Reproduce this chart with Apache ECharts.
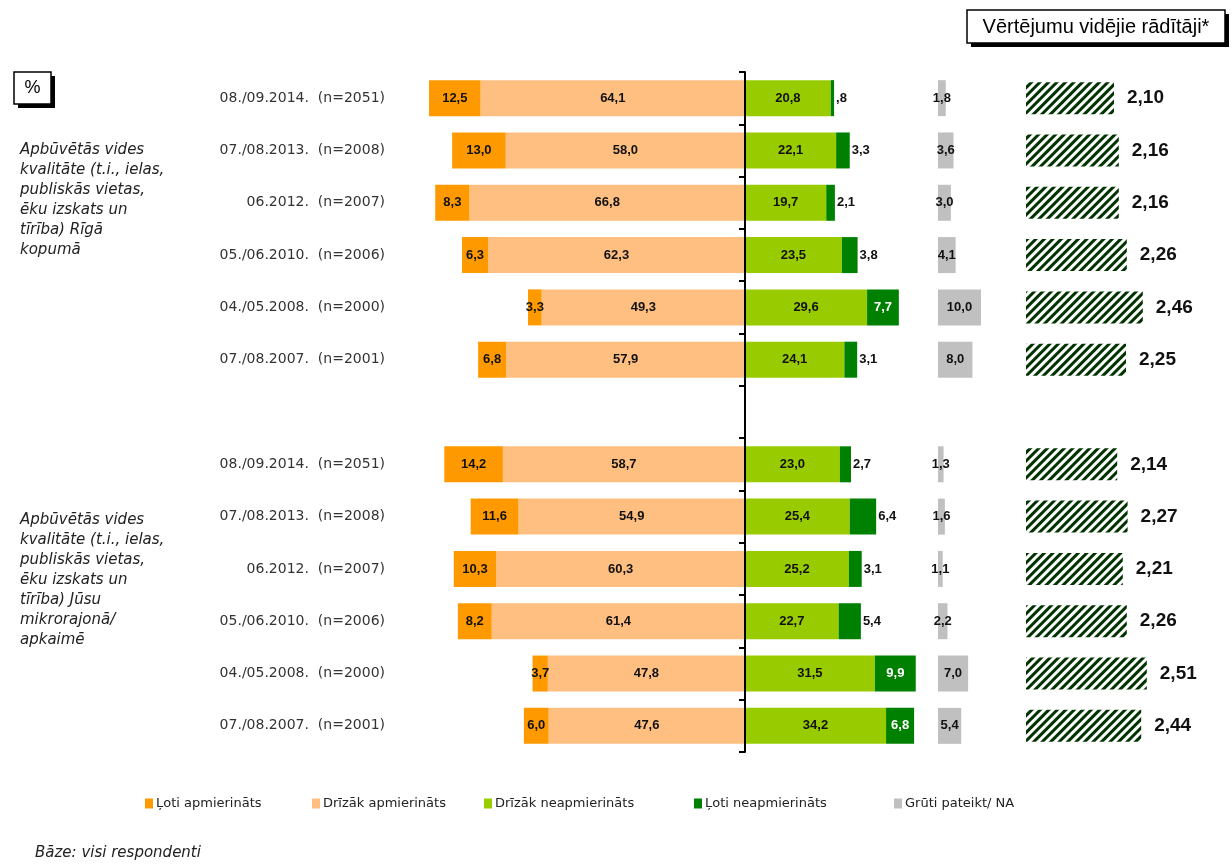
<!DOCTYPE html>
<html>
<head>
<meta charset="utf-8">
<script src="https://cdn.jsdelivr.net/npm/echarts@6/dist/echarts.min.js"></script>
<style>
html,body{margin:0;padding:0;background:#fff;}
#chart{width:1232px;height:866px;}
</style>
</head>
<body>
<div id="chart"></div>
<script>
// ---------- data ----------
const dates = ['08./09.2014.  (n=2051)', '07./08.2013.  (n=2008)', '06.2012.  (n=2007)',
               '05./06.2010.  (n=2006)', '04./05.2008.  (n=2000)', '07./08.2007.  (n=2001)'];
const categories = [...dates, '', ...dates];
const seriesNames = ['Ļoti apmierināts', 'Drīzāk apmierināts', 'Drīzāk neapmierināts', 'Ļoti neapmierināts', 'Grūti pateikt/ NA'];
const veryS   = [12.5, 13.0, 8.3, 6.3, 3.3, 6.8, null, 14.2, 11.6, 10.3, 8.2, 3.7, 6.0];
const ratherS = [64.1, 58.0, 66.8, 62.3, 49.3, 57.9, null, 58.7, 54.9, 60.3, 61.4, 47.8, 47.6];
const ratherD = [20.8, 22.1, 19.7, 23.5, 29.6, 24.1, null, 23.0, 25.4, 25.2, 22.7, 31.5, 34.2];
const veryD   = [0.8, 3.3, 2.1, 3.8, 7.7, 3.1, null, 2.7, 6.4, 3.1, 5.4, 9.9, 6.8];
const na      = [1.8, 3.6, 3.0, 4.1, 10.0, 8.0, null, 1.3, 1.6, 1.1, 2.2, 7.0, 5.4];
const avg     = [2.10, 2.16, 2.16, 2.26, 2.46, 2.25, null, 2.14, 2.27, 2.21, 2.26, 2.51, 2.44];
const groupLabels = [
  'Apbūvētās vides\nkvalitāte (t.i., ielas,\npubliskās vietas,\nēku izskats un\ntīrība) Rīgā\nkopumā',
  'Apbūvētās vides\nkvalitāte (t.i., ielas,\npubliskās vietas,\nēku izskats un\ntīrība) Jūsu\nmikrorajonā/\napkaimē'
];
const avgTitle = 'Vērtējumu vidējie rādītāji*';
const baseNote = 'Bāze: visi respondenti';

// ---------- helpers ----------
const colors = ['#FF9900', '#FFBF80', '#99CC00', '#008000', '#C0C0C0'];
const FONT = 'Liberation Sans, Arial, sans-serif';
const WIDE = 'DejaVu Sans, sans-serif';
function fmt1(v) {
  let s = Math.abs(v).toFixed(1).replace('.', ',');
  if (Math.abs(v) < 1) s = s.replace(/^0/, '');
  return s;
}
const neg = arr => arr.map(v => v == null ? '-' : -v);
const nz = arr => arr.map(v => v == null ? '-' : v);
const barLabel = {
  show: true, position: 'inside', color: '#111', fontSize: 13, fontWeight: 'bold', fontFamily: FONT,
  formatter: p => (typeof p.value === 'number' ? fmt1(p.value) : '')
};

const gridTop = 72, gridH = 680;
const chart = echarts.init(document.getElementById('chart'), null, {renderer: 'canvas'});

const veryDData = veryD.map(v => {
  if (v == null) return '-';
  if (v >= 6.5) return {value: v, label: {position: 'inside', color: '#fff'}};
  return {value: v, label: {position: 'right', distance: 2, color: '#111'}};
});

const option = {
  animation: false,
  backgroundColor: '#fff',
  grid: [
    {left: 415, top: gridTop, width: 515.6, height: gridH},
    {left: 938, top: gridTop, width: 43, height: gridH},
    {left: 1026, top: gridTop, width: 160, height: gridH}
  ],
  xAxis: [
    {gridIndex: 0, type: 'value', min: -80, max: 45, show: false},
    {gridIndex: 1, type: 'value', min: 0, max: 10, show: false},
    {gridIndex: 2, type: 'value', min: 1, max: 3, show: false}
  ],
  yAxis: [
    {gridIndex: 0, type: 'category', data: categories, inverse: true, position: 'left',
     axisLine: {show: false, onZero: false}, axisTick: {show: false},
     axisLabel: {margin: 30, fontSize: 14, color: '#333', fontFamily: WIDE}},
    {gridIndex: 0, type: 'category', data: categories, inverse: true, position: 'left', z: 10,
     axisLine: {show: true, onZero: true, lineStyle: {color: '#000', width: 2}},
     axisTick: {show: true, length: 6, lineStyle: {color: '#000', width: 2}},
     axisLabel: {show: false}},
    {gridIndex: 1, type: 'category', data: categories, inverse: true, show: false},
    {gridIndex: 2, type: 'category', data: categories, inverse: true, show: false}
  ],
  legend: seriesNames.map((n, i) => ({
    data: [n], top: 792, left: [140, 307, 479, 689, 889][i],
    icon: 'rect', itemWidth: 8, itemHeight: 10, itemGap: 4,
    textStyle: {fontSize: 13, color: '#222', fontFamily: WIDE, padding: [0, 0, 0, -2]},
    selectedMode: false
  })),
  series: [
    {name: seriesNames[1], type: 'bar', stack: 'all', xAxisIndex: 0, yAxisIndex: 0, barWidth: 36,
     data: neg(ratherS), itemStyle: {color: colors[1]}, label: barLabel},
    {name: seriesNames[0], type: 'bar', stack: 'all', xAxisIndex: 0, yAxisIndex: 0, barWidth: 36,
     data: neg(veryS), itemStyle: {color: colors[0]}, label: barLabel},
    {name: seriesNames[2], type: 'bar', stack: 'all', xAxisIndex: 0, yAxisIndex: 0, barWidth: 36,
     data: nz(ratherD), itemStyle: {color: colors[2]}, label: barLabel},
    {name: seriesNames[3], type: 'bar', stack: 'all', xAxisIndex: 0, yAxisIndex: 0, barWidth: 36,
     data: veryDData, itemStyle: {color: colors[3]}, label: barLabel},
    {name: seriesNames[4], type: 'bar', xAxisIndex: 1, yAxisIndex: 2, barWidth: 36,
     data: nz(na), itemStyle: {color: colors[4]}, label: barLabel},
    {name: 'avg', type: 'bar', xAxisIndex: 2, yAxisIndex: 3, barWidth: 32,
     data: nz(avg),
     itemStyle: {color: '#fff', decal: {symbol: 'rect', symbolSize: 1, dashArrayX: [1, 0], dashArrayY: [3, 3],
       rotation: -Math.PI / 4, color: '#003300'}},
     label: {show: true, position: 'right', distance: 13, fontSize: 19, fontWeight: 'bold', color: '#111',
       fontFamily: FONT, formatter: p => (typeof p.value === 'number' ? p.value.toFixed(2).replace('.', ',') : '')}}
  ],
  graphic: [
    // % box
    {type: 'rect', shape: {x: 18, y: 76, width: 37, height: 32}, style: {fill: '#000'}},
    {type: 'rect', shape: {x: 14, y: 72, width: 37, height: 32}, style: {fill: '#fff', stroke: '#000', lineWidth: 1.5}},
    {type: 'text', x: 32.5, y: 88, style: {text: '%', fontSize: 18, fontFamily: FONT, fill: '#000', align: 'center', verticalAlign: 'middle'}},
    // average title box
    {type: 'rect', shape: {x: 971, y: 14, width: 258, height: 33}, style: {fill: '#000'}},
    {type: 'rect', shape: {x: 967, y: 10, width: 258, height: 33}, style: {fill: '#fff', stroke: '#000', lineWidth: 1.5}},
    {type: 'text', x: 1096, y: 27, style: {text: avgTitle, fontSize: 20, fontFamily: FONT, fill: '#000', align: 'center', verticalAlign: 'middle'}},
    // group labels
    {type: 'text', x: 20, y: 140, style: {text: groupLabels[0], fontSize: 15, fontStyle: 'italic', fontFamily: WIDE, fill: '#222', lineHeight: 20}},
    {type: 'text', x: 20, y: 510, style: {text: groupLabels[1], fontSize: 15, fontStyle: 'italic', fontFamily: WIDE, fill: '#222', lineHeight: 20}},
    // base note
    {type: 'text', x: 35, y: 846, style: {text: baseNote, fontSize: 15, fontStyle: 'italic', fontFamily: WIDE, fill: '#222'}}
  ]
};
chart.setOption(option);
</script>
</body>
</html>
